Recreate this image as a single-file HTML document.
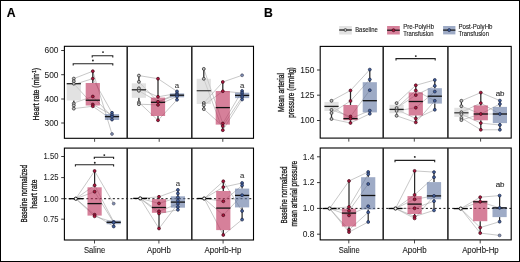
<!DOCTYPE html>
<html><head><meta charset="utf-8"><style>
html,body{margin:0;padding:0;background:#fff;width:520px;height:262px;overflow:hidden;}
</style></head><body>
<svg width="520" height="262" viewBox="0 0 520 262" style="display:block;will-change:transform">
<rect x="0" y="0" width="520" height="262" fill="#fff"/>
<g font-family='"Liberation Sans", sans-serif'>
<polyline points="73.8,78.6 92.8,71.2 112,134" fill="none" stroke="#9a9a9a" stroke-width="0.55"/>
<polyline points="73.8,83.7 92.8,104.5 112,115" fill="none" stroke="#9a9a9a" stroke-width="0.55"/>
<polyline points="73.8,84.6 92.8,78.6 112,112.8" fill="none" stroke="#9a9a9a" stroke-width="0.55"/>
<polyline points="73.8,103 92.8,96.5 112,116.8" fill="none" stroke="#9a9a9a" stroke-width="0.55"/>
<polyline points="73.8,108.6 92.8,106.3 112,119.6" fill="none" stroke="#9a9a9a" stroke-width="0.55"/>
<line x1="73.8" y1="78.6" x2="73.8" y2="83.5" stroke="#2a2a2a" stroke-width="1.25" />
<line x1="73.8" y1="100.5" x2="73.8" y2="108.8" stroke="#2a2a2a" stroke-width="1.25" />
<rect x="66.7" y="83.5" width="14.2" height="17" fill="#cfcfcf" fill-opacity="0.6"/>
<line x1="66.7" y1="83.7" x2="80.9" y2="83.7" stroke="#222" stroke-width="1.3" />
<line x1="92.8" y1="71.2" x2="92.8" y2="83" stroke="#2a2a2a" stroke-width="1.25" />
<line x1="92.8" y1="105.5" x2="92.8" y2="106.3" stroke="#2a2a2a" stroke-width="1.25" />
<rect x="85.7" y="83" width="14.2" height="22.5" fill="#bb2b57" fill-opacity="0.6"/>
<line x1="85.7" y1="100.2" x2="99.9" y2="100.2" stroke="#111" stroke-width="1.3" />
<line x1="112" y1="112.6" x2="112" y2="114.1" stroke="#2a2a2a" stroke-width="1.25" />
<line x1="112" y1="120" x2="112" y2="121" stroke="#2a2a2a" stroke-width="1.25" />
<rect x="104.9" y="114.1" width="14.2" height="5.9" fill="#5d73a0" fill-opacity="0.6"/>
<line x1="104.9" y1="116.6" x2="119.1" y2="116.6" stroke="#111" stroke-width="1.3" />
<circle cx="73.8" cy="78.6" r="1.45" fill="#c4c4c4" stroke="#3a3a3a" stroke-width="0.85"/>
<circle cx="73.8" cy="81.2" r="1.45" fill="#c4c4c4" stroke="#3a3a3a" stroke-width="0.85"/>
<circle cx="73.8" cy="83.7" r="1.45" fill="#c4c4c4" stroke="#3a3a3a" stroke-width="0.85"/>
<circle cx="73.8" cy="103.5" r="1.45" fill="#c4c4c4" stroke="#3a3a3a" stroke-width="0.85"/>
<circle cx="73.8" cy="105.5" r="1.45" fill="#c4c4c4" stroke="#3a3a3a" stroke-width="0.85"/>
<circle cx="73.8" cy="108.6" r="1.45" fill="#c4c4c4" stroke="#3a3a3a" stroke-width="0.85"/>
<circle cx="92.8" cy="71.2" r="1.45" fill="#b0173f" stroke="#3d0a18" stroke-width="0.7"/>
<circle cx="92.8" cy="78.6" r="1.45" fill="#b0173f" stroke="#3d0a18" stroke-width="0.7"/>
<circle cx="92.8" cy="96.5" r="1.45" fill="#b0173f" stroke="#3d0a18" stroke-width="0.7"/>
<circle cx="92.8" cy="104.5" r="1.45" fill="#b0173f" stroke="#3d0a18" stroke-width="0.7"/>
<circle cx="92.8" cy="106.3" r="1.45" fill="#b0173f" stroke="#3d0a18" stroke-width="0.7"/>
<circle cx="112" cy="112.8" r="1.45" fill="#4262a0" stroke="#1c2440" stroke-width="0.7"/>
<circle cx="112" cy="115" r="1.45" fill="#4262a0" stroke="#1c2440" stroke-width="0.7"/>
<circle cx="112" cy="116.8" r="1.45" fill="#4262a0" stroke="#1c2440" stroke-width="0.7"/>
<circle cx="112" cy="119.6" r="1.45" fill="#4262a0" stroke="#1c2440" stroke-width="0.7"/>
<circle cx="112" cy="134" r="1.45" fill="#7f8fb5" stroke="#445" stroke-width="0.6"/>
<polyline points="138.9,75.6 158,78.7 177,91.4" fill="none" stroke="#9a9a9a" stroke-width="0.55"/>
<polyline points="138.9,81.8 158,101.8 177,95" fill="none" stroke="#9a9a9a" stroke-width="0.55"/>
<polyline points="138.9,88.3 158,96.8 177,93.5" fill="none" stroke="#9a9a9a" stroke-width="0.55"/>
<polyline points="138.9,102.4 158,120.3 177,99.8" fill="none" stroke="#9a9a9a" stroke-width="0.55"/>
<polyline points="138.9,104.2 158,104.9 177,96.5" fill="none" stroke="#9a9a9a" stroke-width="0.55"/>
<polyline points="138.9,90.8 158,101.8 177,93.5" fill="none" stroke="#9a9a9a" stroke-width="0.55"/>
<line x1="138.9" y1="75.6" x2="138.9" y2="83.3" stroke="#2a2a2a" stroke-width="1.25" />
<line x1="138.9" y1="97.8" x2="138.9" y2="104" stroke="#2a2a2a" stroke-width="1.25" />
<rect x="131.8" y="83.3" width="14.2" height="14.5" fill="#cfcfcf" fill-opacity="0.6"/>
<line x1="131.8" y1="89.8" x2="146" y2="89.8" stroke="#222" stroke-width="1.3" />
<line x1="158" y1="78.7" x2="158" y2="97.6" stroke="#2a2a2a" stroke-width="1.25" />
<line x1="158" y1="116" x2="158" y2="120.3" stroke="#2a2a2a" stroke-width="1.25" />
<rect x="150.9" y="97.6" width="14.2" height="18.4" fill="#bb2b57" fill-opacity="0.6"/>
<line x1="150.9" y1="102.3" x2="165.1" y2="102.3" stroke="#111" stroke-width="1.3" />
<line x1="177" y1="91.4" x2="177" y2="93.4" stroke="#2a2a2a" stroke-width="1.25" />
<line x1="177" y1="97.3" x2="177" y2="99.8" stroke="#2a2a2a" stroke-width="1.25" />
<rect x="169.9" y="93.4" width="14.2" height="3.9" fill="#5d73a0" fill-opacity="0.6"/>
<line x1="169.9" y1="95.2" x2="184.1" y2="95.2" stroke="#111" stroke-width="1.3" />
<circle cx="138.9" cy="75.6" r="1.45" fill="#c4c4c4" stroke="#3a3a3a" stroke-width="0.85"/>
<circle cx="138.9" cy="81.8" r="1.45" fill="#c4c4c4" stroke="#3a3a3a" stroke-width="0.85"/>
<circle cx="138.9" cy="88.3" r="1.45" fill="#c4c4c4" stroke="#3a3a3a" stroke-width="0.85"/>
<circle cx="138.9" cy="90.8" r="1.45" fill="#c4c4c4" stroke="#3a3a3a" stroke-width="0.85"/>
<circle cx="138.9" cy="102.4" r="1.45" fill="#c4c4c4" stroke="#3a3a3a" stroke-width="0.85"/>
<circle cx="138.9" cy="104.2" r="1.45" fill="#c4c4c4" stroke="#3a3a3a" stroke-width="0.85"/>
<circle cx="158" cy="78.7" r="1.45" fill="#b0173f" stroke="#3d0a18" stroke-width="0.7"/>
<circle cx="158" cy="96.8" r="1.45" fill="#b0173f" stroke="#3d0a18" stroke-width="0.7"/>
<circle cx="158" cy="101.8" r="1.45" fill="#b0173f" stroke="#3d0a18" stroke-width="0.7"/>
<circle cx="158" cy="104.9" r="1.45" fill="#b0173f" stroke="#3d0a18" stroke-width="0.7"/>
<circle cx="158" cy="120.3" r="1.45" fill="#b0173f" stroke="#3d0a18" stroke-width="0.7"/>
<circle cx="177" cy="91.4" r="1.45" fill="#4262a0" stroke="#1c2440" stroke-width="0.7"/>
<circle cx="177" cy="93.5" r="1.45" fill="#4262a0" stroke="#1c2440" stroke-width="0.7"/>
<circle cx="177" cy="95" r="1.45" fill="#4262a0" stroke="#1c2440" stroke-width="0.7"/>
<circle cx="177" cy="96.5" r="1.45" fill="#4262a0" stroke="#1c2440" stroke-width="0.7"/>
<circle cx="177" cy="99.8" r="1.45" fill="#4262a0" stroke="#1c2440" stroke-width="0.7"/>
<polyline points="203.8,68.9 222.8,123.5 242.1,91" fill="none" stroke="#9a9a9a" stroke-width="0.55"/>
<polyline points="203.8,78.8 222.8,130.2 242.1,99.5" fill="none" stroke="#9a9a9a" stroke-width="0.55"/>
<polyline points="203.8,103 222.8,82 242.1,75.3" fill="none" stroke="#9a9a9a" stroke-width="0.55"/>
<polyline points="203.8,105.3 222.8,91.2 242.1,93" fill="none" stroke="#9a9a9a" stroke-width="0.55"/>
<polyline points="203.8,109.1 222.8,126.1 242.1,97" fill="none" stroke="#9a9a9a" stroke-width="0.55"/>
<line x1="203.8" y1="68.9" x2="203.8" y2="78.8" stroke="#2a2a2a" stroke-width="1.25" />
<line x1="203.8" y1="104" x2="203.8" y2="109.1" stroke="#2a2a2a" stroke-width="1.25" />
<rect x="196.7" y="78.8" width="14.2" height="25.2" fill="#cfcfcf" fill-opacity="0.6"/>
<line x1="196.7" y1="90.7" x2="210.9" y2="90.7" stroke="#4a4a4a" stroke-width="1.3" />
<line x1="222.8" y1="82" x2="222.8" y2="91" stroke="#2a2a2a" stroke-width="1.25" />
<line x1="222.8" y1="124.6" x2="222.8" y2="130.2" stroke="#2a2a2a" stroke-width="1.25" />
<rect x="215.7" y="91" width="14.2" height="33.6" fill="#bb2b57" fill-opacity="0.6"/>
<line x1="215.7" y1="107.6" x2="229.9" y2="107.6" stroke="#111" stroke-width="1.3" />
<line x1="242.1" y1="91" x2="242.1" y2="92.7" stroke="#2a2a2a" stroke-width="1.25" />
<line x1="242.1" y1="98.1" x2="242.1" y2="99.5" stroke="#2a2a2a" stroke-width="1.25" />
<rect x="235" y="92.7" width="14.2" height="5.4" fill="#5d73a0" fill-opacity="0.6"/>
<line x1="235" y1="95.4" x2="249.2" y2="95.4" stroke="#111" stroke-width="1.3" />
<circle cx="203.8" cy="68.9" r="1.45" fill="#c4c4c4" stroke="#3a3a3a" stroke-width="0.85"/>
<circle cx="203.8" cy="78.8" r="1.45" fill="#c4c4c4" stroke="#3a3a3a" stroke-width="0.85"/>
<circle cx="203.8" cy="103" r="1.45" fill="#c4c4c4" stroke="#3a3a3a" stroke-width="0.85"/>
<circle cx="203.8" cy="105.3" r="1.45" fill="#c4c4c4" stroke="#3a3a3a" stroke-width="0.85"/>
<circle cx="203.8" cy="109.1" r="1.45" fill="#c4c4c4" stroke="#3a3a3a" stroke-width="0.85"/>
<circle cx="222.8" cy="82" r="1.45" fill="#b0173f" stroke="#3d0a18" stroke-width="0.7"/>
<circle cx="222.8" cy="91.2" r="1.45" fill="#b0173f" stroke="#3d0a18" stroke-width="0.7"/>
<circle cx="222.8" cy="123.5" r="1.45" fill="#b0173f" stroke="#3d0a18" stroke-width="0.7"/>
<circle cx="222.8" cy="126.1" r="1.45" fill="#b0173f" stroke="#3d0a18" stroke-width="0.7"/>
<circle cx="222.8" cy="130.2" r="1.45" fill="#b0173f" stroke="#3d0a18" stroke-width="0.7"/>
<circle cx="242.1" cy="91" r="1.45" fill="#4262a0" stroke="#1c2440" stroke-width="0.7"/>
<circle cx="242.1" cy="93" r="1.45" fill="#4262a0" stroke="#1c2440" stroke-width="0.7"/>
<circle cx="242.1" cy="95.4" r="1.45" fill="#4262a0" stroke="#1c2440" stroke-width="0.7"/>
<circle cx="242.1" cy="97" r="1.45" fill="#4262a0" stroke="#1c2440" stroke-width="0.7"/>
<circle cx="242.1" cy="99.5" r="1.45" fill="#4262a0" stroke="#1c2440" stroke-width="0.7"/>
<circle cx="242.1" cy="75.3" r="1.45" fill="#7f8fb5" stroke="#445" stroke-width="0.6"/>
<path d="M73.2,65.6 V63.8 H112.8 V65.6" fill="none" stroke="#222" stroke-width="1.1"/>
<circle cx="92.9" cy="60.5" r="0.95" fill="#222" stroke="none" stroke-width="0"/>
<path d="M92.2,57.6 V55.8 H112.8 V57.6" fill="none" stroke="#222" stroke-width="1.1"/>
<circle cx="103" cy="52.1" r="0.95" fill="#222" stroke="none" stroke-width="0"/>
<text x="177" y="87.7" font-size="7.8" text-anchor="middle" font-weight="normal" fill="#333" stroke="#333" stroke-width="0.08" >a</text>
<text x="242.1" y="87.7" font-size="7.8" text-anchor="middle" font-weight="normal" fill="#333" stroke="#333" stroke-width="0.08" >a</text>
<rect x="64.4" y="46.3" width="189.1" height="92" fill="none" stroke="#000" stroke-width="1.1"/>
<line x1="127.2" y1="46.3" x2="127.2" y2="138.3" stroke="#2a2a2a" stroke-width="1.6" />
<line x1="191.8" y1="46.3" x2="191.8" y2="138.3" stroke="#2a2a2a" stroke-width="1.6" />
<line x1="61.2" y1="50.5" x2="64.4" y2="50.5" stroke="#222" stroke-width="0.9" />
<text x="58.5" y="53.35" font-size="8.4" text-anchor="end" font-weight="normal" fill="#1a1a1a" stroke="#1a1a1a" stroke-width="0.05" >600</text>
<line x1="61.2" y1="74.7" x2="64.4" y2="74.7" stroke="#222" stroke-width="0.9" />
<text x="58.5" y="77.55" font-size="8.4" text-anchor="end" font-weight="normal" fill="#1a1a1a" stroke="#1a1a1a" stroke-width="0.05" >500</text>
<line x1="61.2" y1="99" x2="64.4" y2="99" stroke="#222" stroke-width="0.9" />
<text x="58.5" y="101.85" font-size="8.4" text-anchor="end" font-weight="normal" fill="#1a1a1a" stroke="#1a1a1a" stroke-width="0.05" >400</text>
<line x1="61.2" y1="123" x2="64.4" y2="123" stroke="#222" stroke-width="0.9" />
<text x="58.5" y="125.85" font-size="8.4" text-anchor="end" font-weight="normal" fill="#1a1a1a" stroke="#1a1a1a" stroke-width="0.05" >300</text>
<line x1="94.6" y1="138.3" x2="94.6" y2="141.8" stroke="#333" stroke-width="0.9" />
<line x1="159.2" y1="138.3" x2="159.2" y2="141.8" stroke="#333" stroke-width="0.9" />
<line x1="222.8" y1="138.3" x2="222.8" y2="141.8" stroke="#333" stroke-width="0.9" />
<line x1="64.4" y1="198.7" x2="253.5" y2="198.7" stroke="#111" stroke-width="1.0" stroke-dasharray="2.1 2.3"/>
<polyline points="75.8,198.7 94.6,171 113.7,203.6" fill="none" stroke="#9a9a9a" stroke-width="0.55"/>
<polyline points="75.8,198.7 94.6,185.3 113.7,221.9" fill="none" stroke="#9a9a9a" stroke-width="0.55"/>
<polyline points="75.8,198.7 94.6,191.7 113.7,222.6" fill="none" stroke="#9a9a9a" stroke-width="0.55"/>
<polyline points="75.8,198.7 94.6,214.7 113.7,226.5" fill="none" stroke="#9a9a9a" stroke-width="0.55"/>
<polyline points="75.8,198.7 94.6,216.3 113.7,222.3" fill="none" stroke="#9a9a9a" stroke-width="0.55"/>
<line x1="68.8" y1="198.7" x2="82.8" y2="198.7" stroke="#000" stroke-width="1.3" />
<line x1="94.6" y1="171" x2="94.6" y2="187.3" stroke="#2a2a2a" stroke-width="1.25" />
<line x1="94.6" y1="215.6" x2="94.6" y2="216.5" stroke="#2a2a2a" stroke-width="1.25" />
<rect x="87.5" y="187.3" width="14.2" height="28.3" fill="#bb2b57" fill-opacity="0.6"/>
<line x1="87.5" y1="203.6" x2="101.7" y2="203.6" stroke="#111" stroke-width="1.3" />
<line x1="113.7" y1="224.2" x2="113.7" y2="226.5" stroke="#2a2a2a" stroke-width="1.25" />
<rect x="106.6" y="220.6" width="14.2" height="3.6" fill="#5d73a0" fill-opacity="0.6"/>
<line x1="106.6" y1="222.3" x2="120.8" y2="222.3" stroke="#111" stroke-width="1.3" />
<circle cx="75.8" cy="198.7" r="1.6" fill="#fff" stroke="#1a1a1a" stroke-width="1.0"/>
<circle cx="94.6" cy="171" r="1.45" fill="#b0173f" stroke="#3d0a18" stroke-width="0.7"/>
<circle cx="94.6" cy="185.3" r="1.45" fill="#b0173f" stroke="#3d0a18" stroke-width="0.7"/>
<circle cx="94.6" cy="191.7" r="1.45" fill="#b0173f" stroke="#3d0a18" stroke-width="0.7"/>
<circle cx="94.6" cy="214.7" r="1.45" fill="#b0173f" stroke="#3d0a18" stroke-width="0.7"/>
<circle cx="94.6" cy="216.3" r="1.45" fill="#b0173f" stroke="#3d0a18" stroke-width="0.7"/>
<circle cx="113.7" cy="221.9" r="1.45" fill="#4262a0" stroke="#1c2440" stroke-width="0.7"/>
<circle cx="113.7" cy="222.6" r="1.45" fill="#4262a0" stroke="#1c2440" stroke-width="0.7"/>
<circle cx="113.7" cy="226.5" r="1.45" fill="#4262a0" stroke="#1c2440" stroke-width="0.7"/>
<circle cx="113.7" cy="203.6" r="1.45" fill="#7f8fb5" stroke="#445" stroke-width="0.6"/>
<polyline points="140.2,198.4 159,196.8 177.9,189.9" fill="none" stroke="#9a9a9a" stroke-width="0.55"/>
<polyline points="140.2,198.4 159,203.4 177.9,197.4" fill="none" stroke="#9a9a9a" stroke-width="0.55"/>
<polyline points="140.2,198.4 159,211.3 177.9,203.8" fill="none" stroke="#9a9a9a" stroke-width="0.55"/>
<polyline points="140.2,198.4 159,213.5 177.9,209.8" fill="none" stroke="#9a9a9a" stroke-width="0.55"/>
<polyline points="140.2,198.4 159,228.5 177.9,203.8" fill="none" stroke="#9a9a9a" stroke-width="0.55"/>
<line x1="133.2" y1="198.4" x2="147.2" y2="198.4" stroke="#000" stroke-width="1.3" />
<line x1="159" y1="196.8" x2="159" y2="199.1" stroke="#2a2a2a" stroke-width="1.25" />
<line x1="159" y1="212.8" x2="159" y2="228.5" stroke="#2a2a2a" stroke-width="1.25" />
<rect x="151.9" y="199.1" width="14.2" height="13.7" fill="#bb2b57" fill-opacity="0.6"/>
<line x1="151.9" y1="207.5" x2="166.1" y2="207.5" stroke="#111" stroke-width="1.3" />
<line x1="177.9" y1="189.9" x2="177.9" y2="196.3" stroke="#2a2a2a" stroke-width="1.25" />
<line x1="177.9" y1="207.7" x2="177.9" y2="209.8" stroke="#2a2a2a" stroke-width="1.25" />
<rect x="170.8" y="196.3" width="14.2" height="11.4" fill="#5d73a0" fill-opacity="0.6"/>
<line x1="170.8" y1="202.1" x2="185" y2="202.1" stroke="#111" stroke-width="1.3" />
<circle cx="140.2" cy="198.4" r="1.6" fill="#fff" stroke="#1a1a1a" stroke-width="1.0"/>
<circle cx="159" cy="196.8" r="1.45" fill="#b0173f" stroke="#3d0a18" stroke-width="0.7"/>
<circle cx="159" cy="203.4" r="1.45" fill="#b0173f" stroke="#3d0a18" stroke-width="0.7"/>
<circle cx="159" cy="211.3" r="1.45" fill="#b0173f" stroke="#3d0a18" stroke-width="0.7"/>
<circle cx="159" cy="213.5" r="1.45" fill="#b0173f" stroke="#3d0a18" stroke-width="0.7"/>
<circle cx="159" cy="228.5" r="1.45" fill="#b0173f" stroke="#3d0a18" stroke-width="0.7"/>
<circle cx="177.9" cy="189.9" r="1.45" fill="#4262a0" stroke="#1c2440" stroke-width="0.7"/>
<circle cx="177.9" cy="193.5" r="1.45" fill="#4262a0" stroke="#1c2440" stroke-width="0.7"/>
<circle cx="177.9" cy="197.4" r="1.45" fill="#4262a0" stroke="#1c2440" stroke-width="0.7"/>
<circle cx="177.9" cy="200.5" r="1.45" fill="#4262a0" stroke="#1c2440" stroke-width="0.7"/>
<circle cx="177.9" cy="203.8" r="1.45" fill="#4262a0" stroke="#1c2440" stroke-width="0.7"/>
<circle cx="177.9" cy="207" r="1.45" fill="#4262a0" stroke="#1c2440" stroke-width="0.7"/>
<circle cx="177.9" cy="209.8" r="1.45" fill="#4262a0" stroke="#1c2440" stroke-width="0.7"/>
<polyline points="204.2,198.5 223.3,181.3 242.1,211" fill="none" stroke="#9a9a9a" stroke-width="0.55"/>
<polyline points="204.2,198.5 223.3,187.1 242.1,183" fill="none" stroke="#9a9a9a" stroke-width="0.55"/>
<polyline points="204.2,198.5 223.3,201.3 242.1,185.4" fill="none" stroke="#9a9a9a" stroke-width="0.55"/>
<polyline points="204.2,198.5 223.3,215.2 242.1,195.2" fill="none" stroke="#9a9a9a" stroke-width="0.55"/>
<polyline points="204.2,198.5 223.3,235 242.1,219.6" fill="none" stroke="#9a9a9a" stroke-width="0.55"/>
<line x1="197.2" y1="198.5" x2="211.2" y2="198.5" stroke="#000" stroke-width="1.3" />
<line x1="223.3" y1="181.3" x2="223.3" y2="191" stroke="#2a2a2a" stroke-width="1.25" />
<line x1="223.3" y1="230.1" x2="223.3" y2="235" stroke="#2a2a2a" stroke-width="1.25" />
<rect x="216.2" y="191" width="14.2" height="39.1" fill="#bb2b57" fill-opacity="0.6"/>
<line x1="216.2" y1="208.1" x2="230.4" y2="208.1" stroke="#111" stroke-width="1.3" />
<line x1="242.1" y1="183" x2="242.1" y2="188.6" stroke="#2a2a2a" stroke-width="1.25" />
<line x1="242.1" y1="207.4" x2="242.1" y2="219.6" stroke="#2a2a2a" stroke-width="1.25" />
<rect x="235" y="188.6" width="14.2" height="18.8" fill="#5d73a0" fill-opacity="0.6"/>
<line x1="235" y1="195.4" x2="249.2" y2="195.4" stroke="#111" stroke-width="1.3" />
<circle cx="204.2" cy="198.5" r="1.6" fill="#fff" stroke="#1a1a1a" stroke-width="1.0"/>
<circle cx="223.3" cy="181.3" r="1.45" fill="#b0173f" stroke="#3d0a18" stroke-width="0.7"/>
<circle cx="223.3" cy="187.1" r="1.45" fill="#b0173f" stroke="#3d0a18" stroke-width="0.7"/>
<circle cx="223.3" cy="201.3" r="1.45" fill="#b0173f" stroke="#3d0a18" stroke-width="0.7"/>
<circle cx="223.3" cy="215.2" r="1.45" fill="#b0173f" stroke="#3d0a18" stroke-width="0.7"/>
<circle cx="223.3" cy="235" r="1.45" fill="#b0173f" stroke="#3d0a18" stroke-width="0.7"/>
<circle cx="242.1" cy="183" r="1.45" fill="#4262a0" stroke="#1c2440" stroke-width="0.7"/>
<circle cx="242.1" cy="185.4" r="1.45" fill="#4262a0" stroke="#1c2440" stroke-width="0.7"/>
<circle cx="242.1" cy="195.2" r="1.45" fill="#4262a0" stroke="#1c2440" stroke-width="0.7"/>
<circle cx="242.1" cy="211" r="1.45" fill="#4262a0" stroke="#1c2440" stroke-width="0.7"/>
<circle cx="242.1" cy="219.6" r="1.45" fill="#4262a0" stroke="#1c2440" stroke-width="0.7"/>
<path d="M75.4,166.6 V164.8 H113.6 V166.6" fill="none" stroke="#222" stroke-width="1.1"/>
<circle cx="94.8" cy="162.8" r="0.95" fill="#222" stroke="none" stroke-width="0"/>
<path d="M94.3,159 V157.2 H113.6 V159" fill="none" stroke="#222" stroke-width="1.1"/>
<circle cx="104.3" cy="155.1" r="0.95" fill="#222" stroke="none" stroke-width="0"/>
<text x="177.9" y="186" font-size="7.8" text-anchor="middle" font-weight="normal" fill="#333" stroke="#333" stroke-width="0.08" >a</text>
<text x="242.1" y="177.6" font-size="7.8" text-anchor="middle" font-weight="normal" fill="#333" stroke="#333" stroke-width="0.08" >a</text>
<rect x="64.4" y="148.1" width="189.1" height="91.9" fill="none" stroke="#000" stroke-width="1.1"/>
<line x1="127.2" y1="148.1" x2="127.2" y2="240" stroke="#2a2a2a" stroke-width="1.6" />
<line x1="191.8" y1="148.1" x2="191.8" y2="240" stroke="#2a2a2a" stroke-width="1.6" />
<line x1="61.2" y1="156.5" x2="64.4" y2="156.5" stroke="#222" stroke-width="0.9" />
<text x="58.5" y="159.35" font-size="8.4" text-anchor="end" font-weight="normal" fill="#1a1a1a" stroke="#1a1a1a" stroke-width="0.05" textLength="14.9" lengthAdjust="spacingAndGlyphs" >1.50</text>
<line x1="61.2" y1="177.6" x2="64.4" y2="177.6" stroke="#222" stroke-width="0.9" />
<text x="58.5" y="180.45" font-size="8.4" text-anchor="end" font-weight="normal" fill="#1a1a1a" stroke="#1a1a1a" stroke-width="0.05" textLength="14.9" lengthAdjust="spacingAndGlyphs" >1.25</text>
<line x1="61.2" y1="198.7" x2="64.4" y2="198.7" stroke="#222" stroke-width="0.9" />
<text x="58.5" y="201.55" font-size="8.4" text-anchor="end" font-weight="normal" fill="#1a1a1a" stroke="#1a1a1a" stroke-width="0.05" textLength="14.9" lengthAdjust="spacingAndGlyphs" >1.00</text>
<line x1="61.2" y1="219.2" x2="64.4" y2="219.2" stroke="#222" stroke-width="0.9" />
<text x="58.5" y="222.05" font-size="8.4" text-anchor="end" font-weight="normal" fill="#1a1a1a" stroke="#1a1a1a" stroke-width="0.05" textLength="14.9" lengthAdjust="spacingAndGlyphs" >0.75</text>
<line x1="94.5" y1="240" x2="94.5" y2="243.5" stroke="#333" stroke-width="0.9" />
<line x1="158.9" y1="240" x2="158.9" y2="243.5" stroke="#333" stroke-width="0.9" />
<line x1="223.1" y1="240" x2="223.1" y2="243.5" stroke="#333" stroke-width="0.9" />
<text x="94.6" y="253.2" font-size="8.4" text-anchor="middle" font-weight="normal" fill="#1a1a1a" stroke="#1a1a1a" stroke-width="0.1" textLength="21.2" lengthAdjust="spacingAndGlyphs" >Saline</text>
<text x="158.9" y="253.2" font-size="8.4" text-anchor="middle" font-weight="normal" fill="#1a1a1a" stroke="#1a1a1a" stroke-width="0.1" textLength="23.9" lengthAdjust="spacingAndGlyphs" >ApoHb</text>
<text x="223" y="253.2" font-size="8.4" text-anchor="middle" font-weight="normal" fill="#1a1a1a" stroke="#1a1a1a" stroke-width="0.1" textLength="36.9" lengthAdjust="spacingAndGlyphs" >ApoHb-Hp</text>
<text x="0" y="0" font-size="9.0" text-anchor="middle" font-weight="normal" fill="#1a1a1a" stroke="#1a1a1a" stroke-width="0.32" textLength="52.4" lengthAdjust="spacingAndGlyphs" transform="translate(38.6,94.2) rotate(-90)">Heart rate (min<tspan font-size="5.6" dy="-3">-1</tspan><tspan dy="3">)</tspan></text>
<text x="0" y="0" font-size="9.0" text-anchor="middle" font-weight="normal" fill="#1a1a1a" stroke="#1a1a1a" stroke-width="0.32" textLength="57.5" lengthAdjust="spacingAndGlyphs" transform="translate(26.5,193.8) rotate(-90)">Baseline normalized</text>
<text x="0" y="0" font-size="9.0" text-anchor="middle" font-weight="normal" fill="#1a1a1a" stroke="#1a1a1a" stroke-width="0.32" textLength="29" lengthAdjust="spacingAndGlyphs" transform="translate(36.6,194.1) rotate(-90)">heart rate</text>
<polyline points="331.5,100.8 350.5,90.5 369.8,69.6" fill="none" stroke="#9a9a9a" stroke-width="0.55"/>
<polyline points="331.5,109.9 350.5,116.5 369.8,90.2" fill="none" stroke="#9a9a9a" stroke-width="0.55"/>
<polyline points="331.5,113 350.5,101 369.8,79.5" fill="none" stroke="#9a9a9a" stroke-width="0.55"/>
<polyline points="331.5,119 350.5,123 369.8,113.8" fill="none" stroke="#9a9a9a" stroke-width="0.55"/>
<polyline points="331.5,106.4 350.5,118.6 369.8,110.6" fill="none" stroke="#9a9a9a" stroke-width="0.55"/>
<line x1="331.5" y1="100.8" x2="331.5" y2="101.9" stroke="#2a2a2a" stroke-width="1.25" />
<line x1="331.5" y1="111" x2="331.5" y2="119" stroke="#2a2a2a" stroke-width="1.25" />
<rect x="324.4" y="101.9" width="14.2" height="9.1" fill="#cfcfcf" fill-opacity="0.6"/>
<line x1="324.4" y1="106.4" x2="338.6" y2="106.4" stroke="#222" stroke-width="1.3" />
<line x1="350.5" y1="90.5" x2="350.5" y2="105" stroke="#2a2a2a" stroke-width="1.25" />
<line x1="350.5" y1="120.2" x2="350.5" y2="123" stroke="#2a2a2a" stroke-width="1.25" />
<rect x="343.4" y="105" width="14.2" height="15.2" fill="#bb2b57" fill-opacity="0.6"/>
<line x1="343.4" y1="118.6" x2="357.6" y2="118.6" stroke="#111" stroke-width="1.3" />
<line x1="369.8" y1="69.6" x2="369.8" y2="82.2" stroke="#2a2a2a" stroke-width="1.25" />
<line x1="369.8" y1="112.4" x2="369.8" y2="113.8" stroke="#2a2a2a" stroke-width="1.25" />
<rect x="362.7" y="82.2" width="14.2" height="30.2" fill="#5d73a0" fill-opacity="0.6"/>
<line x1="362.7" y1="100.7" x2="376.9" y2="100.7" stroke="#111" stroke-width="1.3" />
<circle cx="331.5" cy="100.8" r="1.45" fill="#c4c4c4" stroke="#3a3a3a" stroke-width="0.85"/>
<circle cx="331.5" cy="109.9" r="1.45" fill="#c4c4c4" stroke="#3a3a3a" stroke-width="0.85"/>
<circle cx="331.5" cy="113" r="1.45" fill="#c4c4c4" stroke="#3a3a3a" stroke-width="0.85"/>
<circle cx="331.5" cy="119" r="1.45" fill="#c4c4c4" stroke="#3a3a3a" stroke-width="0.85"/>
<circle cx="350.5" cy="90.5" r="1.45" fill="#b0173f" stroke="#3d0a18" stroke-width="0.7"/>
<circle cx="350.5" cy="101" r="1.45" fill="#b0173f" stroke="#3d0a18" stroke-width="0.7"/>
<circle cx="350.5" cy="116.5" r="1.45" fill="#b0173f" stroke="#3d0a18" stroke-width="0.7"/>
<circle cx="350.5" cy="118.6" r="1.45" fill="#b0173f" stroke="#3d0a18" stroke-width="0.7"/>
<circle cx="350.5" cy="123" r="1.45" fill="#b0173f" stroke="#3d0a18" stroke-width="0.7"/>
<circle cx="369.8" cy="69.6" r="1.45" fill="#4262a0" stroke="#1c2440" stroke-width="0.7"/>
<circle cx="369.8" cy="79.5" r="1.45" fill="#4262a0" stroke="#1c2440" stroke-width="0.7"/>
<circle cx="369.8" cy="90.2" r="1.45" fill="#4262a0" stroke="#1c2440" stroke-width="0.7"/>
<circle cx="369.8" cy="110.6" r="1.45" fill="#4262a0" stroke="#1c2440" stroke-width="0.7"/>
<circle cx="369.8" cy="113.8" r="1.45" fill="#4262a0" stroke="#1c2440" stroke-width="0.7"/>
<polyline points="396.6,103.1 415.8,85.3 434.8,80" fill="none" stroke="#9a9a9a" stroke-width="0.55"/>
<polyline points="396.6,108 415.8,95.1 434.8,85.9" fill="none" stroke="#9a9a9a" stroke-width="0.55"/>
<polyline points="396.6,110.9 415.8,107.7 434.8,91.6" fill="none" stroke="#9a9a9a" stroke-width="0.55"/>
<polyline points="396.6,115.8 415.8,122.4 434.8,100.8" fill="none" stroke="#9a9a9a" stroke-width="0.55"/>
<polyline points="396.6,109.4 415.8,118.6 434.8,109.8" fill="none" stroke="#9a9a9a" stroke-width="0.55"/>
<polyline points="396.6,108 415.8,90.5 434.8,100.8" fill="none" stroke="#9a9a9a" stroke-width="0.55"/>
<line x1="396.6" y1="103.1" x2="396.6" y2="104.8" stroke="#2a2a2a" stroke-width="1.25" />
<line x1="396.6" y1="113.2" x2="396.6" y2="115.8" stroke="#2a2a2a" stroke-width="1.25" />
<rect x="389.5" y="104.8" width="14.2" height="8.4" fill="#cfcfcf" fill-opacity="0.6"/>
<line x1="389.5" y1="109.4" x2="403.7" y2="109.4" stroke="#222" stroke-width="1.3" />
<line x1="415.8" y1="85.3" x2="415.8" y2="92.4" stroke="#2a2a2a" stroke-width="1.25" />
<line x1="415.8" y1="115.5" x2="415.8" y2="122.4" stroke="#2a2a2a" stroke-width="1.25" />
<rect x="408.7" y="92.4" width="14.2" height="23.1" fill="#bb2b57" fill-opacity="0.6"/>
<line x1="408.7" y1="101.5" x2="422.9" y2="101.5" stroke="#111" stroke-width="1.3" />
<line x1="434.8" y1="80" x2="434.8" y2="88.2" stroke="#2a2a2a" stroke-width="1.25" />
<line x1="434.8" y1="103.6" x2="434.8" y2="109.8" stroke="#2a2a2a" stroke-width="1.25" />
<rect x="427.7" y="88.2" width="14.2" height="15.4" fill="#5d73a0" fill-opacity="0.6"/>
<line x1="427.7" y1="96.2" x2="441.9" y2="96.2" stroke="#111" stroke-width="1.3" />
<circle cx="396.6" cy="103.1" r="1.45" fill="#c4c4c4" stroke="#3a3a3a" stroke-width="0.85"/>
<circle cx="396.6" cy="108" r="1.45" fill="#c4c4c4" stroke="#3a3a3a" stroke-width="0.85"/>
<circle cx="396.6" cy="110.9" r="1.45" fill="#c4c4c4" stroke="#3a3a3a" stroke-width="0.85"/>
<circle cx="396.6" cy="115.8" r="1.45" fill="#c4c4c4" stroke="#3a3a3a" stroke-width="0.85"/>
<circle cx="415.8" cy="85.3" r="1.45" fill="#b0173f" stroke="#3d0a18" stroke-width="0.7"/>
<circle cx="415.8" cy="90.5" r="1.45" fill="#b0173f" stroke="#3d0a18" stroke-width="0.7"/>
<circle cx="415.8" cy="95.1" r="1.45" fill="#b0173f" stroke="#3d0a18" stroke-width="0.7"/>
<circle cx="415.8" cy="107.7" r="1.45" fill="#b0173f" stroke="#3d0a18" stroke-width="0.7"/>
<circle cx="415.8" cy="118.6" r="1.45" fill="#b0173f" stroke="#3d0a18" stroke-width="0.7"/>
<circle cx="415.8" cy="122.4" r="1.45" fill="#b0173f" stroke="#3d0a18" stroke-width="0.7"/>
<circle cx="434.8" cy="80" r="1.45" fill="#4262a0" stroke="#1c2440" stroke-width="0.7"/>
<circle cx="434.8" cy="85.9" r="1.45" fill="#4262a0" stroke="#1c2440" stroke-width="0.7"/>
<circle cx="434.8" cy="91.6" r="1.45" fill="#4262a0" stroke="#1c2440" stroke-width="0.7"/>
<circle cx="434.8" cy="100.8" r="1.45" fill="#4262a0" stroke="#1c2440" stroke-width="0.7"/>
<circle cx="434.8" cy="109.8" r="1.45" fill="#4262a0" stroke="#1c2440" stroke-width="0.7"/>
<polyline points="461.4,100.8 480.8,92.6 499.9,100.6" fill="none" stroke="#9a9a9a" stroke-width="0.55"/>
<polyline points="461.4,106.2 480.8,114 499.9,104" fill="none" stroke="#9a9a9a" stroke-width="0.55"/>
<polyline points="461.4,112.2 480.8,103.1 499.9,114" fill="none" stroke="#9a9a9a" stroke-width="0.55"/>
<polyline points="461.4,114.2 480.8,123.1 499.9,125" fill="none" stroke="#9a9a9a" stroke-width="0.55"/>
<polyline points="461.4,118 480.8,129.8 499.9,129.8" fill="none" stroke="#9a9a9a" stroke-width="0.55"/>
<polyline points="461.4,120.1 480.8,114 499.9,114" fill="none" stroke="#9a9a9a" stroke-width="0.55"/>
<line x1="461.4" y1="100.8" x2="461.4" y2="107.8" stroke="#2a2a2a" stroke-width="1.25" />
<line x1="461.4" y1="116.9" x2="461.4" y2="120.1" stroke="#2a2a2a" stroke-width="1.25" />
<rect x="454.3" y="107.8" width="14.2" height="9.1" fill="#cfcfcf" fill-opacity="0.6"/>
<line x1="454.3" y1="112.8" x2="468.5" y2="112.8" stroke="#3a3a3a" stroke-width="1.3" />
<line x1="480.8" y1="92.6" x2="480.8" y2="105.4" stroke="#2a2a2a" stroke-width="1.25" />
<line x1="480.8" y1="120.3" x2="480.8" y2="129.8" stroke="#2a2a2a" stroke-width="1.25" />
<rect x="473.7" y="105.4" width="14.2" height="14.9" fill="#bb2b57" fill-opacity="0.6"/>
<line x1="473.7" y1="114" x2="487.9" y2="114" stroke="#111" stroke-width="1.3" />
<line x1="499.9" y1="100.6" x2="499.9" y2="106.9" stroke="#2a2a2a" stroke-width="1.25" />
<line x1="499.9" y1="123.1" x2="499.9" y2="129.8" stroke="#2a2a2a" stroke-width="1.25" />
<rect x="492.8" y="106.9" width="14.2" height="16.2" fill="#5d73a0" fill-opacity="0.6"/>
<line x1="492.8" y1="114" x2="507" y2="114" stroke="#111" stroke-width="1.3" />
<circle cx="461.4" cy="100.8" r="1.45" fill="#c4c4c4" stroke="#3a3a3a" stroke-width="0.85"/>
<circle cx="461.4" cy="106.2" r="1.45" fill="#c4c4c4" stroke="#3a3a3a" stroke-width="0.85"/>
<circle cx="461.4" cy="112.2" r="1.45" fill="#c4c4c4" stroke="#3a3a3a" stroke-width="0.85"/>
<circle cx="461.4" cy="114.2" r="1.45" fill="#c4c4c4" stroke="#3a3a3a" stroke-width="0.85"/>
<circle cx="461.4" cy="118" r="1.45" fill="#c4c4c4" stroke="#3a3a3a" stroke-width="0.85"/>
<circle cx="461.4" cy="120.1" r="1.45" fill="#c4c4c4" stroke="#3a3a3a" stroke-width="0.85"/>
<circle cx="480.8" cy="92.6" r="1.45" fill="#b0173f" stroke="#3d0a18" stroke-width="0.7"/>
<circle cx="480.8" cy="103.1" r="1.45" fill="#b0173f" stroke="#3d0a18" stroke-width="0.7"/>
<circle cx="480.8" cy="114" r="1.45" fill="#b0173f" stroke="#3d0a18" stroke-width="0.7"/>
<circle cx="480.8" cy="123.1" r="1.45" fill="#b0173f" stroke="#3d0a18" stroke-width="0.7"/>
<circle cx="480.8" cy="129.8" r="1.45" fill="#b0173f" stroke="#3d0a18" stroke-width="0.7"/>
<circle cx="499.9" cy="100.6" r="1.45" fill="#4262a0" stroke="#1c2440" stroke-width="0.7"/>
<circle cx="499.9" cy="104" r="1.45" fill="#4262a0" stroke="#1c2440" stroke-width="0.7"/>
<circle cx="499.9" cy="114" r="1.45" fill="#4262a0" stroke="#1c2440" stroke-width="0.7"/>
<circle cx="499.9" cy="125" r="1.45" fill="#4262a0" stroke="#1c2440" stroke-width="0.7"/>
<circle cx="499.9" cy="129.8" r="1.45" fill="#4262a0" stroke="#1c2440" stroke-width="0.7"/>
<path d="M396,60.4 V58.6 H435.2 V60.4" fill="none" stroke="#222" stroke-width="1.1"/>
<circle cx="415.8" cy="56.1" r="0.95" fill="#222" stroke="none" stroke-width="0"/>
<text x="500.1" y="95.6" font-size="8.0" text-anchor="middle" font-weight="normal" fill="#222" stroke="#222" stroke-width="0.1" >ab</text>
<rect x="320.2" y="46.4" width="191" height="91.7" fill="none" stroke="#000" stroke-width="1.1"/>
<line x1="383.2" y1="46.4" x2="383.2" y2="138.1" stroke="#2a2a2a" stroke-width="1.6" />
<line x1="447.9" y1="46.4" x2="447.9" y2="138.1" stroke="#2a2a2a" stroke-width="1.6" />
<line x1="317" y1="70" x2="320.2" y2="70" stroke="#222" stroke-width="0.9" />
<text x="314.3" y="72.85" font-size="8.4" text-anchor="end" font-weight="normal" fill="#1a1a1a" stroke="#1a1a1a" stroke-width="0.05" >150</text>
<line x1="317" y1="95.2" x2="320.2" y2="95.2" stroke="#222" stroke-width="0.9" />
<text x="314.3" y="98.05" font-size="8.4" text-anchor="end" font-weight="normal" fill="#1a1a1a" stroke="#1a1a1a" stroke-width="0.05" >125</text>
<line x1="317" y1="120.5" x2="320.2" y2="120.5" stroke="#222" stroke-width="0.9" />
<text x="314.3" y="123.35" font-size="8.4" text-anchor="end" font-weight="normal" fill="#1a1a1a" stroke="#1a1a1a" stroke-width="0.05" >100</text>
<line x1="348.8" y1="138.1" x2="348.8" y2="141.6" stroke="#333" stroke-width="0.9" />
<line x1="414.3" y1="138.1" x2="414.3" y2="141.6" stroke="#333" stroke-width="0.9" />
<line x1="480.6" y1="138.1" x2="480.6" y2="141.6" stroke="#333" stroke-width="0.9" />
<line x1="320.2" y1="208.4" x2="511.2" y2="208.4" stroke="#111" stroke-width="1.0" stroke-dasharray="2.1 2.3"/>
<polyline points="329.6,208.5 349,181 368.2,172" fill="none" stroke="#9a9a9a" stroke-width="0.55"/>
<polyline points="329.6,208.5 349,206.9 368.2,174.3" fill="none" stroke="#9a9a9a" stroke-width="0.55"/>
<polyline points="329.6,208.5 349,210.8 368.2,184" fill="none" stroke="#9a9a9a" stroke-width="0.55"/>
<polyline points="329.6,208.5 349,215.4 368.2,206.2" fill="none" stroke="#9a9a9a" stroke-width="0.55"/>
<polyline points="329.6,208.5 349,229.8 368.2,212.3" fill="none" stroke="#9a9a9a" stroke-width="0.55"/>
<polyline points="329.6,208.5 349,232.1 368.2,222" fill="none" stroke="#9a9a9a" stroke-width="0.55"/>
<line x1="322.6" y1="208.5" x2="336.6" y2="208.5" stroke="#000" stroke-width="1.3" />
<line x1="349" y1="181" x2="349" y2="208.7" stroke="#2a2a2a" stroke-width="1.25" />
<line x1="349" y1="226.5" x2="349" y2="232.1" stroke="#2a2a2a" stroke-width="1.25" />
<rect x="341.9" y="208.7" width="14.2" height="17.8" fill="#bb2b57" fill-opacity="0.6"/>
<line x1="341.9" y1="213.1" x2="356.1" y2="213.1" stroke="#111" stroke-width="1.3" />
<line x1="368.2" y1="172" x2="368.2" y2="177.2" stroke="#2a2a2a" stroke-width="1.25" />
<line x1="368.2" y1="209.5" x2="368.2" y2="222" stroke="#2a2a2a" stroke-width="1.25" />
<rect x="361.1" y="177.2" width="14.2" height="32.3" fill="#5d73a0" fill-opacity="0.6"/>
<line x1="361.1" y1="195.5" x2="375.3" y2="195.5" stroke="#111" stroke-width="1.3" />
<circle cx="329.6" cy="208.5" r="1.6" fill="#fff" stroke="#1a1a1a" stroke-width="1.0"/>
<circle cx="349" cy="181" r="1.45" fill="#b0173f" stroke="#3d0a18" stroke-width="0.7"/>
<circle cx="349" cy="206.9" r="1.45" fill="#b0173f" stroke="#3d0a18" stroke-width="0.7"/>
<circle cx="349" cy="210.8" r="1.45" fill="#b0173f" stroke="#3d0a18" stroke-width="0.7"/>
<circle cx="349" cy="215.4" r="1.45" fill="#b0173f" stroke="#3d0a18" stroke-width="0.7"/>
<circle cx="349" cy="229.8" r="1.45" fill="#b0173f" stroke="#3d0a18" stroke-width="0.7"/>
<circle cx="349" cy="232.1" r="1.45" fill="#b0173f" stroke="#3d0a18" stroke-width="0.7"/>
<circle cx="368.2" cy="172" r="1.45" fill="#4262a0" stroke="#1c2440" stroke-width="0.7"/>
<circle cx="368.2" cy="174.3" r="1.45" fill="#4262a0" stroke="#1c2440" stroke-width="0.7"/>
<circle cx="368.2" cy="184" r="1.45" fill="#4262a0" stroke="#1c2440" stroke-width="0.7"/>
<circle cx="368.2" cy="206.2" r="1.45" fill="#4262a0" stroke="#1c2440" stroke-width="0.7"/>
<circle cx="368.2" cy="212.3" r="1.45" fill="#4262a0" stroke="#1c2440" stroke-width="0.7"/>
<circle cx="368.2" cy="222" r="1.45" fill="#4262a0" stroke="#1c2440" stroke-width="0.7"/>
<polyline points="395.5,208.5 414.6,170.9 434,172.1" fill="none" stroke="#9a9a9a" stroke-width="0.55"/>
<polyline points="395.5,208.5 414.6,194.9 434,177.2" fill="none" stroke="#9a9a9a" stroke-width="0.55"/>
<polyline points="395.5,208.5 414.6,199.3 434,195.9" fill="none" stroke="#9a9a9a" stroke-width="0.55"/>
<polyline points="395.5,208.5 414.6,208.3 434,201.2" fill="none" stroke="#9a9a9a" stroke-width="0.55"/>
<polyline points="395.5,208.5 414.6,216.5 434,210.4" fill="none" stroke="#9a9a9a" stroke-width="0.55"/>
<polyline points="395.5,208.5 414.6,218.4 434,195.9" fill="none" stroke="#9a9a9a" stroke-width="0.55"/>
<line x1="388.5" y1="208.5" x2="402.5" y2="208.5" stroke="#000" stroke-width="1.3" />
<line x1="414.6" y1="170.9" x2="414.6" y2="196.1" stroke="#2a2a2a" stroke-width="1.25" />
<line x1="414.6" y1="214" x2="414.6" y2="218.4" stroke="#2a2a2a" stroke-width="1.25" />
<rect x="407.5" y="196.1" width="14.2" height="17.9" fill="#bb2b57" fill-opacity="0.6"/>
<line x1="407.5" y1="204.1" x2="421.7" y2="204.1" stroke="#111" stroke-width="1.3" />
<line x1="434" y1="172.1" x2="434" y2="182.1" stroke="#2a2a2a" stroke-width="1.25" />
<line x1="434" y1="199.3" x2="434" y2="210.4" stroke="#2a2a2a" stroke-width="1.25" />
<rect x="426.9" y="182.1" width="14.2" height="17.2" fill="#5d73a0" fill-opacity="0.6"/>
<line x1="426.9" y1="195.9" x2="441.1" y2="195.9" stroke="#111" stroke-width="1.3" />
<circle cx="395.5" cy="208.5" r="1.6" fill="#fff" stroke="#1a1a1a" stroke-width="1.0"/>
<circle cx="414.6" cy="170.9" r="1.45" fill="#b0173f" stroke="#3d0a18" stroke-width="0.7"/>
<circle cx="414.6" cy="194.9" r="1.45" fill="#b0173f" stroke="#3d0a18" stroke-width="0.7"/>
<circle cx="414.6" cy="199.3" r="1.45" fill="#b0173f" stroke="#3d0a18" stroke-width="0.7"/>
<circle cx="414.6" cy="208.3" r="1.45" fill="#b0173f" stroke="#3d0a18" stroke-width="0.7"/>
<circle cx="414.6" cy="216.5" r="1.45" fill="#b0173f" stroke="#3d0a18" stroke-width="0.7"/>
<circle cx="414.6" cy="218.4" r="1.45" fill="#b0173f" stroke="#3d0a18" stroke-width="0.7"/>
<circle cx="434" cy="172.1" r="1.45" fill="#4262a0" stroke="#1c2440" stroke-width="0.7"/>
<circle cx="434" cy="177.2" r="1.45" fill="#4262a0" stroke="#1c2440" stroke-width="0.7"/>
<circle cx="434" cy="195.9" r="1.45" fill="#4262a0" stroke="#1c2440" stroke-width="0.7"/>
<circle cx="434" cy="201.2" r="1.45" fill="#4262a0" stroke="#1c2440" stroke-width="0.7"/>
<circle cx="434" cy="210.4" r="1.45" fill="#4262a0" stroke="#1c2440" stroke-width="0.7"/>
<polyline points="460.7,208.6 480.2,197.2 499.6,195.6" fill="none" stroke="#9a9a9a" stroke-width="0.55"/>
<polyline points="460.7,208.6 480.2,201.8 499.6,207.9" fill="none" stroke="#9a9a9a" stroke-width="0.55"/>
<polyline points="460.7,208.6 480.2,227.6 499.6,221.7" fill="none" stroke="#9a9a9a" stroke-width="0.55"/>
<polyline points="460.7,208.6 480.2,233.1 499.6,235.4" fill="none" stroke="#9a9a9a" stroke-width="0.55"/>
<line x1="453.7" y1="208.6" x2="467.7" y2="208.6" stroke="#000" stroke-width="1.3" />
<line x1="480.2" y1="197.2" x2="480.2" y2="200.6" stroke="#2a2a2a" stroke-width="1.25" />
<line x1="480.2" y1="221.2" x2="480.2" y2="233.1" stroke="#2a2a2a" stroke-width="1.25" />
<rect x="473.1" y="200.6" width="14.2" height="20.6" fill="#bb2b57" fill-opacity="0.6"/>
<line x1="473.1" y1="201.8" x2="487.3" y2="201.8" stroke="#111" stroke-width="1.3" />
<line x1="499.6" y1="195.6" x2="499.6" y2="207" stroke="#2a2a2a" stroke-width="1.25" />
<line x1="499.6" y1="217.1" x2="499.6" y2="221.7" stroke="#2a2a2a" stroke-width="1.25" />
<rect x="492.5" y="207" width="14.2" height="10.1" fill="#5d73a0" fill-opacity="0.6"/>
<line x1="492.5" y1="207.9" x2="506.7" y2="207.9" stroke="#111" stroke-width="1.3" />
<circle cx="460.7" cy="208.6" r="1.6" fill="#fff" stroke="#1a1a1a" stroke-width="1.0"/>
<circle cx="480.2" cy="197.2" r="1.45" fill="#b0173f" stroke="#3d0a18" stroke-width="0.7"/>
<circle cx="480.2" cy="201.8" r="1.45" fill="#b0173f" stroke="#3d0a18" stroke-width="0.7"/>
<circle cx="480.2" cy="227.6" r="1.45" fill="#b0173f" stroke="#3d0a18" stroke-width="0.7"/>
<circle cx="480.2" cy="233.1" r="1.45" fill="#b0173f" stroke="#3d0a18" stroke-width="0.7"/>
<circle cx="499.6" cy="195.6" r="1.45" fill="#4262a0" stroke="#1c2440" stroke-width="0.7"/>
<circle cx="499.6" cy="207.9" r="1.45" fill="#4262a0" stroke="#1c2440" stroke-width="0.7"/>
<circle cx="499.6" cy="221.7" r="1.45" fill="#4262a0" stroke="#1c2440" stroke-width="0.7"/>
<circle cx="499.6" cy="235.4" r="1.45" fill="#7f8fb5" stroke="#445" stroke-width="0.6"/>
<path d="M395,162.2 V160.4 H434.7 V162.2" fill="none" stroke="#222" stroke-width="1.1"/>
<circle cx="414.8" cy="156.9" r="0.95" fill="#222" stroke="none" stroke-width="0"/>
<text x="500.1" y="187.4" font-size="8.0" text-anchor="middle" font-weight="normal" fill="#222" stroke="#222" stroke-width="0.1" >ab</text>
<rect x="320.2" y="148" width="191" height="91.9" fill="none" stroke="#000" stroke-width="1.1"/>
<line x1="383.2" y1="148" x2="383.2" y2="239.9" stroke="#2a2a2a" stroke-width="1.6" />
<line x1="447.9" y1="148" x2="447.9" y2="239.9" stroke="#2a2a2a" stroke-width="1.6" />
<line x1="317" y1="156.8" x2="320.2" y2="156.8" stroke="#222" stroke-width="0.9" />
<text x="314.3" y="159.65" font-size="8.4" text-anchor="end" font-weight="normal" fill="#1a1a1a" stroke="#1a1a1a" stroke-width="0.05" >1.4</text>
<line x1="317" y1="182.6" x2="320.2" y2="182.6" stroke="#222" stroke-width="0.9" />
<text x="314.3" y="185.45" font-size="8.4" text-anchor="end" font-weight="normal" fill="#1a1a1a" stroke="#1a1a1a" stroke-width="0.05" >1.2</text>
<line x1="317" y1="208.4" x2="320.2" y2="208.4" stroke="#222" stroke-width="0.9" />
<text x="314.3" y="211.25" font-size="8.4" text-anchor="end" font-weight="normal" fill="#1a1a1a" stroke="#1a1a1a" stroke-width="0.05" >1.0</text>
<line x1="317" y1="234.2" x2="320.2" y2="234.2" stroke="#222" stroke-width="0.9" />
<text x="314.3" y="237.05" font-size="8.4" text-anchor="end" font-weight="normal" fill="#1a1a1a" stroke="#1a1a1a" stroke-width="0.05" >0.8</text>
<line x1="348.8" y1="239.9" x2="348.8" y2="243.4" stroke="#333" stroke-width="0.9" />
<line x1="414.5" y1="239.9" x2="414.5" y2="243.4" stroke="#333" stroke-width="0.9" />
<line x1="480.2" y1="239.9" x2="480.2" y2="243.4" stroke="#333" stroke-width="0.9" />
<text x="349.2" y="253.2" font-size="8.4" text-anchor="middle" font-weight="normal" fill="#1a1a1a" stroke="#1a1a1a" stroke-width="0.1" textLength="21.1" lengthAdjust="spacingAndGlyphs" >Saline</text>
<text x="414.6" y="253.2" font-size="8.4" text-anchor="middle" font-weight="normal" fill="#1a1a1a" stroke="#1a1a1a" stroke-width="0.1" textLength="24.1" lengthAdjust="spacingAndGlyphs" >ApoHb</text>
<text x="480.4" y="253.2" font-size="8.4" text-anchor="middle" font-weight="normal" fill="#1a1a1a" stroke="#1a1a1a" stroke-width="0.1" textLength="36.5" lengthAdjust="spacingAndGlyphs" >ApoHb-Hp</text>
<text x="0" y="0" font-size="9.0" text-anchor="middle" font-weight="normal" fill="#1a1a1a" stroke="#1a1a1a" stroke-width="0.32" textLength="39" lengthAdjust="spacingAndGlyphs" transform="translate(283.6,92.6) rotate(-90)">Mean arterial</text>
<text x="0" y="0" font-size="9.0" text-anchor="middle" font-weight="normal" fill="#1a1a1a" stroke="#1a1a1a" stroke-width="0.32" textLength="50.5" lengthAdjust="spacingAndGlyphs" transform="translate(293.6,92.55) rotate(-90)">pressure (mmHg)</text>
<text x="0" y="0" font-size="9.0" text-anchor="middle" font-weight="normal" fill="#1a1a1a" stroke="#1a1a1a" stroke-width="0.32" textLength="57.1" lengthAdjust="spacingAndGlyphs" transform="translate(286.8,195) rotate(-90)">Baseline normalized</text>
<text x="0" y="0" font-size="9.0" text-anchor="middle" font-weight="normal" fill="#1a1a1a" stroke="#1a1a1a" stroke-width="0.32" textLength="65.7" lengthAdjust="spacingAndGlyphs" transform="translate(296.8,193.75) rotate(-90)">mean arterial pressure</text>
<rect x="339.2" y="26" width="12.6" height="8.5" fill="#e2e2e2"/>
<line x1="339.2" y1="30" x2="351.8" y2="30" stroke="#111" stroke-width="1.2" />
<circle cx="345.4" cy="30" r="1.4" fill="#c4c4c4" stroke="#3a3a3a" stroke-width="0.8"/>
<text x="355.2" y="31.9" font-size="6.6" text-anchor="start" font-weight="normal" fill="#1a1a1a" stroke="#1a1a1a" stroke-width="0.12" textLength="22.6" lengthAdjust="spacingAndGlyphs" >Baseline</text>
<rect x="387.1" y="26" width="12.7" height="8.5" fill="#d6809a"/>
<line x1="387.1" y1="30.2" x2="399.8" y2="30.2" stroke="#111" stroke-width="1.2" />
<circle cx="393.5" cy="30.2" r="1.5" fill="#b0173f" stroke="#3d0a18" stroke-width="0.7"/>
<text x="403.2" y="28.7" font-size="6.6" text-anchor="start" font-weight="normal" fill="#1a1a1a" stroke="#1a1a1a" stroke-width="0.12" textLength="30.8" lengthAdjust="spacingAndGlyphs" >Pre-PolyHb</text>
<text x="403.2" y="35.8" font-size="6.6" text-anchor="start" font-weight="normal" fill="#1a1a1a" stroke="#1a1a1a" stroke-width="0.12" textLength="30.4" lengthAdjust="spacingAndGlyphs" >Transfusion</text>
<rect x="443.1" y="26" width="12.3" height="8.4" fill="#9eabc6"/>
<line x1="443.1" y1="30.1" x2="455.4" y2="30.1" stroke="#111" stroke-width="1.2" />
<circle cx="449.2" cy="30.1" r="1.5" fill="#4262a0" stroke="#1c2440" stroke-width="0.7"/>
<text x="458.5" y="28.7" font-size="6.6" text-anchor="start" font-weight="normal" fill="#1a1a1a" stroke="#1a1a1a" stroke-width="0.12" textLength="34" lengthAdjust="spacingAndGlyphs" >Post-PolyHb</text>
<text x="458.5" y="35.8" font-size="6.6" text-anchor="start" font-weight="normal" fill="#1a1a1a" stroke="#1a1a1a" stroke-width="0.12" textLength="30.4" lengthAdjust="spacingAndGlyphs" >Transfusion</text>
<text x="6.7" y="16.8" font-size="12.2" text-anchor="start" font-weight="bold" fill="#000" stroke="#000" stroke-width="0.15" >A</text>
<text x="264.1" y="17.1" font-size="12.2" text-anchor="start" font-weight="bold" fill="#000" stroke="#000" stroke-width="0.15" >B</text>
</g>
<rect x="0.5" y="0.5" width="519" height="261" fill="none" stroke="#000" stroke-width="1"/>
</svg>
</body></html>
